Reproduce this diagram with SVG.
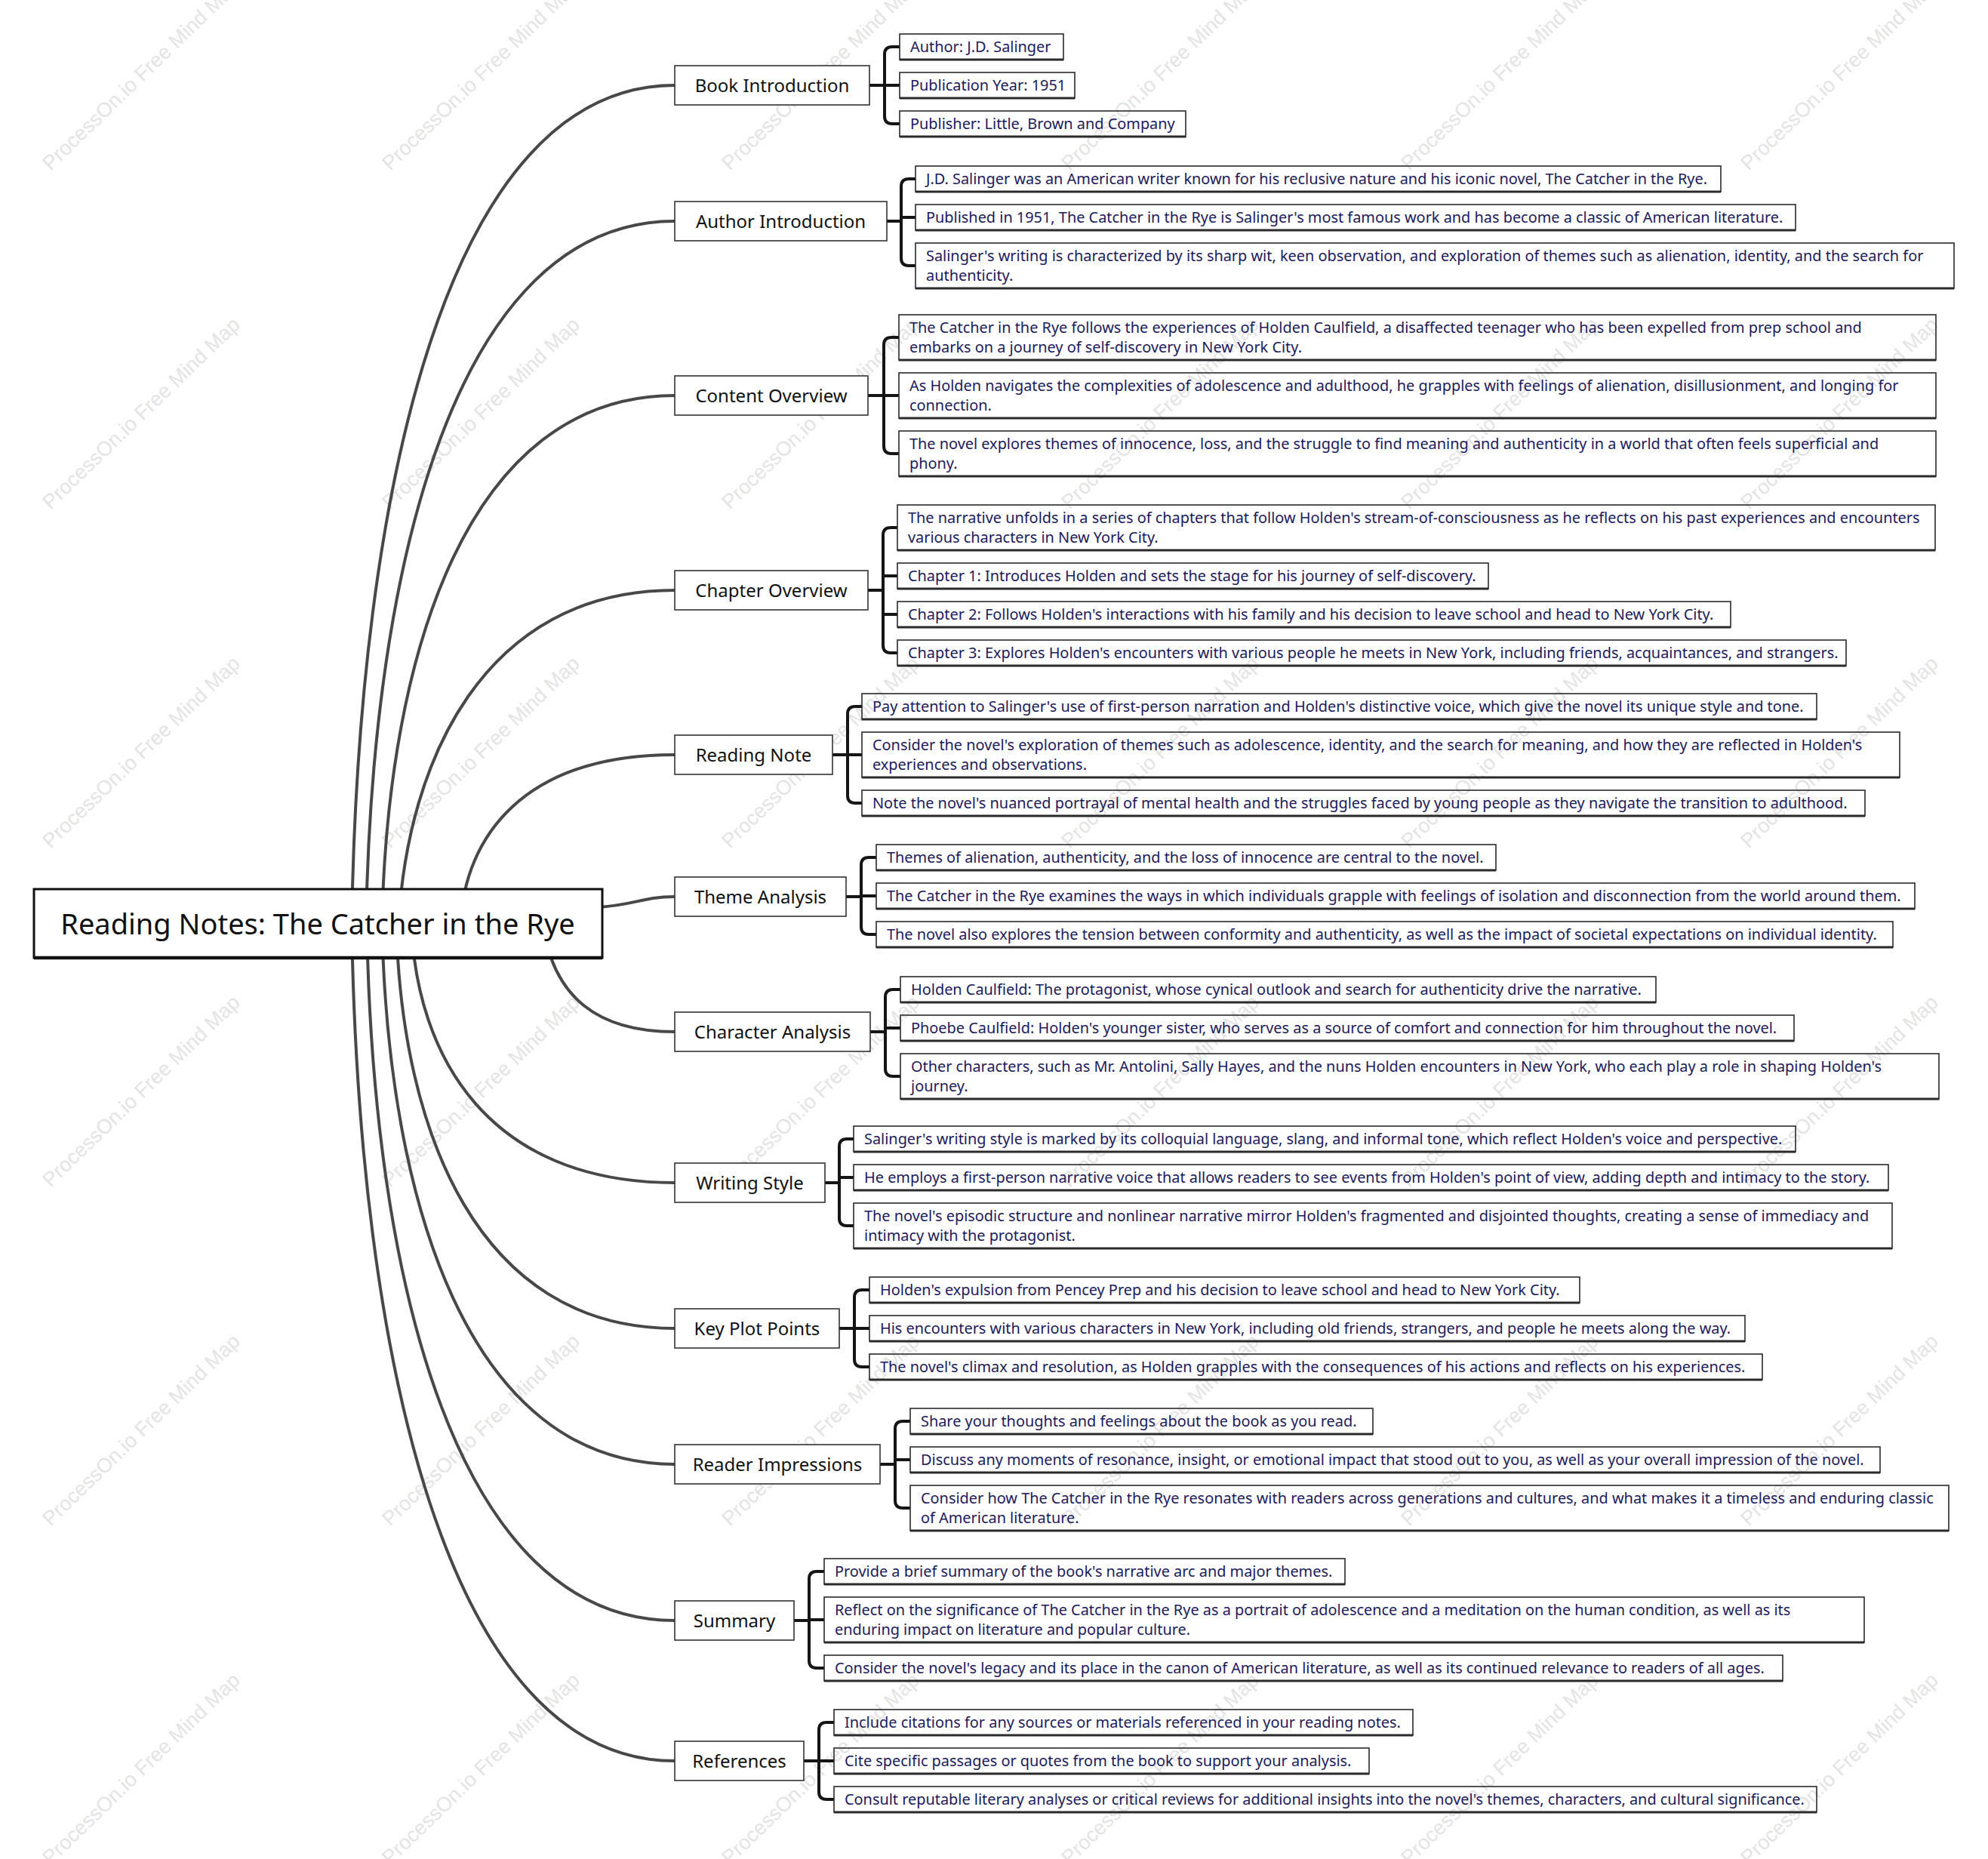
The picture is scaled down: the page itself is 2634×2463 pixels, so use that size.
<svg xmlns="http://www.w3.org/2000/svg" width="2634" height="2463" viewBox="0 0 2634 2463">
<style>
.wm{font-family:"Liberation Sans",Arial,sans-serif;font-size:27px;fill:#e4e4e4}
.curve{fill:none;stroke:#484848;stroke-width:4;stroke-linecap:round}
.br{fill:none;stroke:#151515;stroke-width:4;stroke-linejoin:round}
.rootbox{fill:#fff;stroke:#111;stroke-width:3}
.rootbot{stroke:#111;stroke-width:4.5}
.nb{fill:#fff;stroke:#333;stroke-width:1.6}
.lb{fill:none;stroke:#2a2a2a;stroke-width:1.6}
.lbb{stroke:#2a2a2a;stroke-width:3.2}
.tr{font-family:"Noto Sans","Open Sans",sans-serif;font-size:38px;fill:#111;text-anchor:middle}
.tm{font-family:"Noto Sans","Open Sans",sans-serif;font-size:24px;fill:#111;text-anchor:middle}
.tl{font-family:"Noto Sans","Open Sans",sans-serif;font-size:19.9px;fill:#1d1a5b}
</style>
<g id="watermarks">
<text class="wm" transform="translate(67,227) rotate(-44)">ProcessOn.io Free Mind Map</text>
<text class="wm" transform="translate(517,227) rotate(-44)">ProcessOn.io Free Mind Map</text>
<text class="wm" transform="translate(967,227) rotate(-44)">ProcessOn.io Free Mind Map</text>
<text class="wm" transform="translate(1417,227) rotate(-44)">ProcessOn.io Free Mind Map</text>
<text class="wm" transform="translate(1867,227) rotate(-44)">ProcessOn.io Free Mind Map</text>
<text class="wm" transform="translate(2317,227) rotate(-44)">ProcessOn.io Free Mind Map</text>
<text class="wm" transform="translate(67,676) rotate(-44)">ProcessOn.io Free Mind Map</text>
<text class="wm" transform="translate(517,676) rotate(-44)">ProcessOn.io Free Mind Map</text>
<text class="wm" transform="translate(967,676) rotate(-44)">ProcessOn.io Free Mind Map</text>
<text class="wm" transform="translate(1417,676) rotate(-44)">ProcessOn.io Free Mind Map</text>
<text class="wm" transform="translate(1867,676) rotate(-44)">ProcessOn.io Free Mind Map</text>
<text class="wm" transform="translate(2317,676) rotate(-44)">ProcessOn.io Free Mind Map</text>
<text class="wm" transform="translate(67,1125) rotate(-44)">ProcessOn.io Free Mind Map</text>
<text class="wm" transform="translate(517,1125) rotate(-44)">ProcessOn.io Free Mind Map</text>
<text class="wm" transform="translate(967,1125) rotate(-44)">ProcessOn.io Free Mind Map</text>
<text class="wm" transform="translate(1417,1125) rotate(-44)">ProcessOn.io Free Mind Map</text>
<text class="wm" transform="translate(1867,1125) rotate(-44)">ProcessOn.io Free Mind Map</text>
<text class="wm" transform="translate(2317,1125) rotate(-44)">ProcessOn.io Free Mind Map</text>
<text class="wm" transform="translate(67,1574) rotate(-44)">ProcessOn.io Free Mind Map</text>
<text class="wm" transform="translate(517,1574) rotate(-44)">ProcessOn.io Free Mind Map</text>
<text class="wm" transform="translate(967,1574) rotate(-44)">ProcessOn.io Free Mind Map</text>
<text class="wm" transform="translate(1417,1574) rotate(-44)">ProcessOn.io Free Mind Map</text>
<text class="wm" transform="translate(1867,1574) rotate(-44)">ProcessOn.io Free Mind Map</text>
<text class="wm" transform="translate(2317,1574) rotate(-44)">ProcessOn.io Free Mind Map</text>
<text class="wm" transform="translate(67,2023) rotate(-44)">ProcessOn.io Free Mind Map</text>
<text class="wm" transform="translate(517,2023) rotate(-44)">ProcessOn.io Free Mind Map</text>
<text class="wm" transform="translate(967,2023) rotate(-44)">ProcessOn.io Free Mind Map</text>
<text class="wm" transform="translate(1417,2023) rotate(-44)">ProcessOn.io Free Mind Map</text>
<text class="wm" transform="translate(1867,2023) rotate(-44)">ProcessOn.io Free Mind Map</text>
<text class="wm" transform="translate(2317,2023) rotate(-44)">ProcessOn.io Free Mind Map</text>
<text class="wm" transform="translate(67,2472) rotate(-44)">ProcessOn.io Free Mind Map</text>
<text class="wm" transform="translate(517,2472) rotate(-44)">ProcessOn.io Free Mind Map</text>
<text class="wm" transform="translate(967,2472) rotate(-44)">ProcessOn.io Free Mind Map</text>
<text class="wm" transform="translate(1417,2472) rotate(-44)">ProcessOn.io Free Mind Map</text>
<text class="wm" transform="translate(1867,2472) rotate(-44)">ProcessOn.io Free Mind Map</text>
<text class="wm" transform="translate(2317,2472) rotate(-44)">ProcessOn.io Free Mind Map</text>
</g>
<g id="connectors">
<path class="curve" d="M466,1224 C475,657 590,113 894,113"/>
<path class="curve" d="M485,1224 C493,749 604,293 894,293"/>
<path class="curve" d="M506,1224 C514,867 619,524 894,524"/>
<path class="curve" d="M528,1224 C540,1010 640,782 894,782"/>
<path class="curve" d="M610,1224 C616,1110 692,1000 894,1000"/>
<path class="curve" d="M790,1202 C840,1200 850,1188 894,1188"/>
<path class="curve" d="M720,1230 C735,1320 790,1367 894,1367"/>
<path class="curve" d="M545,1224 C552,1399 646,1567 894,1567"/>
<path class="curve" d="M525,1224 C532,1497 632,1760 894,1760"/>
<path class="curve" d="M506,1224 C514,1589 619,1940 894,1940"/>
<path class="curve" d="M486,1224 C494,1695 604,2147 894,2147"/>
<path class="curve" d="M466,1224 C475,1790 590,2333 894,2333"/>
<path class="br" d="M1152,113 H1172 M1192,62 H1182 Q1172,62 1172,72 V154 Q1172,164 1182,164 H1192 M1172,113 H1192"/>
<path class="br" d="M1175,293 H1194 M1213,237 H1204 Q1194,237 1194,247 V342 Q1194,352 1204,352 H1213 M1194,288 H1213"/>
<path class="br" d="M1150,524 H1171 M1191,447 H1181 Q1171,447 1171,457 V591 Q1171,601 1181,601 H1191 M1171,524 H1191"/>
<path class="br" d="M1150,782 H1170 M1189,699 H1180 Q1170,699 1170,709 V855 Q1170,865 1180,865 H1189 M1170,763 H1189 M1170,814 H1189"/>
<path class="br" d="M1103,1000 H1123 M1142,936 H1133 Q1123,936 1123,946 V1054 Q1123,1064 1133,1064 H1142 M1123,1000 H1142"/>
<path class="br" d="M1121,1188 H1141 M1161,1136 H1151 Q1141,1136 1141,1146 V1228 Q1141,1238 1151,1238 H1161 M1141,1187 H1161"/>
<path class="br" d="M1153,1367 H1173 M1193,1311 H1183 Q1173,1311 1173,1321 V1416 Q1173,1426 1183,1426 H1193 M1173,1362 H1193"/>
<path class="br" d="M1093,1567 H1112 M1131,1509 H1122 Q1112,1509 1112,1519 V1614 Q1112,1624 1122,1624 H1131 M1112,1560 H1131"/>
<path class="br" d="M1112,1760 H1132 M1152,1709 H1142 Q1132,1709 1132,1719 V1801 Q1132,1811 1142,1811 H1152 M1132,1760 H1152"/>
<path class="br" d="M1166,1940 H1186 M1206,1883 H1196 Q1186,1883 1186,1893 V1988 Q1186,1998 1196,1998 H1206 M1186,1934 H1206"/>
<path class="br" d="M1052,2147 H1072 M1092,2082 H1082 Q1072,2082 1072,2092 V2200 Q1072,2210 1082,2210 H1092 M1072,2146 H1092"/>
<path class="br" d="M1065,2333 H1085 M1105,2282 H1095 Q1085,2282 1085,2292 V2374 Q1085,2384 1095,2384 H1105 M1085,2333 H1105"/>
</g>
<g id="root">
<rect class="rootbox" x="45" y="1178" width="753" height="91"/>
<line class="rootbot" x1="45" y1="1269" x2="798" y2="1269"/>
<text class="tr" x="421" y="1238">Reading Notes: The Catcher in the Rye</text>
</g>
<g id="n-book">
<rect class="nb" x="894" y="87" width="258" height="52"/>
<text class="tm" x="1023" y="121.5">Book Introduction</text>
</g>
<g id="n-book-1"><rect class="lb" x="1192" y="45" width="217" height="34"/><line class="lbb" x1="1192" y1="79" x2="1409" y2="79"/><text class="tl" x="1206" y="69">Author: J.D. Salinger</text></g>
<g id="n-book-2"><rect class="lb" x="1192" y="96" width="232" height="34"/><line class="lbb" x1="1192" y1="130" x2="1424" y2="130"/><text class="tl" x="1206" y="120">Publication Year: 1951</text></g>
<g id="n-book-3"><rect class="lb" x="1192" y="147" width="379" height="34"/><line class="lbb" x1="1192" y1="181" x2="1571" y2="181"/><text class="tl" x="1206" y="171">Publisher: Little, Brown and Company</text></g>

<g id="n-author">
<rect class="nb" x="894" y="267" width="281" height="52"/>
<text class="tm" x="1034.5" y="301.5">Author Introduction</text>
</g>
<g id="n-author-1"><rect class="lb" x="1213" y="220" width="1067" height="34"/><line class="lbb" x1="1213" y1="254" x2="2280" y2="254"/><text class="tl" x="1227" y="244">J.D. Salinger was an American writer known for his reclusive nature and his iconic novel, The Catcher in the Rye.</text></g>
<g id="n-author-2"><rect class="lb" x="1213" y="271" width="1166" height="34"/><line class="lbb" x1="1213" y1="305" x2="2379" y2="305"/><text class="tl" x="1227" y="295">Published in 1951, The Catcher in the Rye is Salinger's most famous work and has become a classic of American literature.</text></g>
<g id="n-author-3"><rect class="lb" x="1213" y="322" width="1376" height="60"/><line class="lbb" x1="1213" y1="382" x2="2589" y2="382"/><text class="tl" x="1227" y="346">Salinger's writing is characterized by its sharp wit, keen observation, and exploration of themes such as alienation, identity, and the search for</text><text class="tl" x="1227" y="372">authenticity.</text></g>

<g id="n-content">
<rect class="nb" x="894" y="498" width="256" height="52"/>
<text class="tm" x="1022" y="532.5">Content Overview</text>
</g>
<g id="n-content-1"><rect class="lb" x="1191" y="417" width="1374" height="60"/><line class="lbb" x1="1191" y1="477" x2="2565" y2="477"/><text class="tl" x="1205" y="441">The Catcher in the Rye follows the experiences of Holden Caulfield, a disaffected teenager who has been expelled from prep school and</text><text class="tl" x="1205" y="467">embarks on a journey of self-discovery in New York City.</text></g>
<g id="n-content-2"><rect class="lb" x="1191" y="494" width="1374" height="60"/><line class="lbb" x1="1191" y1="554" x2="2565" y2="554"/><text class="tl" x="1205" y="518">As Holden navigates the complexities of adolescence and adulthood, he grapples with feelings of alienation, disillusionment, and longing for</text><text class="tl" x="1205" y="544">connection.</text></g>
<g id="n-content-3"><rect class="lb" x="1191" y="571" width="1374" height="60"/><line class="lbb" x1="1191" y1="631" x2="2565" y2="631"/><text class="tl" x="1205" y="595">The novel explores themes of innocence, loss, and the struggle to find meaning and authenticity in a world that often feels superficial and</text><text class="tl" x="1205" y="621">phony.</text></g>

<g id="n-chapter">
<rect class="nb" x="894" y="756" width="256" height="52"/>
<text class="tm" x="1022" y="790.5">Chapter Overview</text>
</g>
<g id="n-chapter-1"><rect class="lb" x="1189" y="669" width="1375" height="60"/><line class="lbb" x1="1189" y1="729" x2="2564" y2="729"/><text class="tl" x="1203" y="693">The narrative unfolds in a series of chapters that follow Holden's stream-of-consciousness as he reflects on his past experiences and encounters</text><text class="tl" x="1203" y="719">various characters in New York City.</text></g>
<g id="n-chapter-2"><rect class="lb" x="1189" y="746" width="783" height="34"/><line class="lbb" x1="1189" y1="780" x2="1972" y2="780"/><text class="tl" x="1203" y="770">Chapter 1: Introduces Holden and sets the stage for his journey of self-discovery.</text></g>
<g id="n-chapter-3"><rect class="lb" x="1189" y="797" width="1104" height="34"/><line class="lbb" x1="1189" y1="831" x2="2293" y2="831"/><text class="tl" x="1203" y="821">Chapter 2: Follows Holden's interactions with his family and his decision to leave school and head to New York City.</text></g>
<g id="n-chapter-4"><rect class="lb" x="1189" y="848" width="1257" height="34"/><line class="lbb" x1="1189" y1="882" x2="2446" y2="882"/><text class="tl" x="1203" y="872">Chapter 3: Explores Holden's encounters with various people he meets in New York, including friends, acquaintances, and strangers.</text></g>

<g id="n-reading">
<rect class="nb" x="894" y="974" width="209" height="52"/>
<text class="tm" x="998.5" y="1008.5">Reading Note</text>
</g>
<g id="n-reading-1"><rect class="lb" x="1142" y="919" width="1265" height="34"/><line class="lbb" x1="1142" y1="953" x2="2407" y2="953"/><text class="tl" x="1156" y="943">Pay attention to Salinger's use of first-person narration and Holden's distinctive voice, which give the novel its unique style and tone.</text></g>
<g id="n-reading-2"><rect class="lb" x="1142" y="970" width="1375" height="60"/><line class="lbb" x1="1142" y1="1030" x2="2517" y2="1030"/><text class="tl" x="1156" y="994">Consider the novel's exploration of themes such as adolescence, identity, and the search for meaning, and how they are reflected in Holden's</text><text class="tl" x="1156" y="1020">experiences and observations.</text></g>
<g id="n-reading-3"><rect class="lb" x="1142" y="1047" width="1329" height="34"/><line class="lbb" x1="1142" y1="1081" x2="2471" y2="1081"/><text class="tl" x="1156" y="1071">Note the novel's nuanced portrayal of mental health and the struggles faced by young people as they navigate the transition to adulthood.</text></g>

<g id="n-theme">
<rect class="nb" x="894" y="1162" width="227" height="52"/>
<text class="tm" x="1007.5" y="1196.5">Theme Analysis</text>
</g>
<g id="n-theme-1"><rect class="lb" x="1161" y="1119" width="821" height="34"/><line class="lbb" x1="1161" y1="1153" x2="1982" y2="1153"/><text class="tl" x="1175" y="1143">Themes of alienation, authenticity, and the loss of innocence are central to the novel.</text></g>
<g id="n-theme-2"><rect class="lb" x="1161" y="1170" width="1376" height="34"/><line class="lbb" x1="1161" y1="1204" x2="2537" y2="1204"/><text class="tl" x="1175" y="1194">The Catcher in the Rye examines the ways in which individuals grapple with feelings of isolation and disconnection from the world around them.</text></g>
<g id="n-theme-3"><rect class="lb" x="1161" y="1221" width="1347" height="34"/><line class="lbb" x1="1161" y1="1255" x2="2508" y2="1255"/><text class="tl" x="1175" y="1245">The novel also explores the tension between conformity and authenticity, as well as the impact of societal expectations on individual identity.</text></g>

<g id="n-character">
<rect class="nb" x="894" y="1341" width="259" height="52"/>
<text class="tm" x="1023.5" y="1375.5">Character Analysis</text>
</g>
<g id="n-character-1"><rect class="lb" x="1193" y="1294" width="1001" height="34"/><line class="lbb" x1="1193" y1="1328" x2="2194" y2="1328"/><text class="tl" x="1207" y="1318">Holden Caulfield: The protagonist, whose cynical outlook and search for authenticity drive the narrative.</text></g>
<g id="n-character-2"><rect class="lb" x="1193" y="1345" width="1184" height="34"/><line class="lbb" x1="1193" y1="1379" x2="2377" y2="1379"/><text class="tl" x="1207" y="1369">Phoebe Caulfield: Holden's younger sister, who serves as a source of comfort and connection for him throughout the novel.</text></g>
<g id="n-character-3"><rect class="lb" x="1193" y="1396" width="1376" height="60"/><line class="lbb" x1="1193" y1="1456" x2="2569" y2="1456"/><text class="tl" x="1207" y="1420">Other characters, such as Mr. Antolini, Sally Hayes, and the nuns Holden encounters in New York, who each play a role in shaping Holden's</text><text class="tl" x="1207" y="1446">journey.</text></g>

<g id="n-writing">
<rect class="nb" x="894" y="1541" width="199" height="52"/>
<text class="tm" x="993.5" y="1575.5">Writing Style</text>
</g>
<g id="n-writing-1"><rect class="lb" x="1131" y="1492" width="1248" height="34"/><line class="lbb" x1="1131" y1="1526" x2="2379" y2="1526"/><text class="tl" x="1145" y="1516">Salinger's writing style is marked by its colloquial language, slang, and informal tone, which reflect Holden's voice and perspective.</text></g>
<g id="n-writing-2"><rect class="lb" x="1131" y="1543" width="1371" height="34"/><line class="lbb" x1="1131" y1="1577" x2="2502" y2="1577"/><text class="tl" x="1145" y="1567">He employs a first-person narrative voice that allows readers to see events from Holden's point of view, adding depth and intimacy to the story.</text></g>
<g id="n-writing-3"><rect class="lb" x="1131" y="1594" width="1376" height="60"/><line class="lbb" x1="1131" y1="1654" x2="2507" y2="1654"/><text class="tl" x="1145" y="1618">The novel's episodic structure and nonlinear narrative mirror Holden's fragmented and disjointed thoughts, creating a sense of immediacy and</text><text class="tl" x="1145" y="1644">intimacy with the protagonist.</text></g>

<g id="n-plot">
<rect class="nb" x="894" y="1734" width="218" height="52"/>
<text class="tm" x="1003" y="1768.5">Key Plot Points</text>
</g>
<g id="n-plot-1"><rect class="lb" x="1152" y="1692" width="941" height="34"/><line class="lbb" x1="1152" y1="1726" x2="2093" y2="1726"/><text class="tl" x="1166" y="1716">Holden's expulsion from Pencey Prep and his decision to leave school and head to New York City.</text></g>
<g id="n-plot-2"><rect class="lb" x="1152" y="1743" width="1160" height="34"/><line class="lbb" x1="1152" y1="1777" x2="2312" y2="1777"/><text class="tl" x="1166" y="1767">His encounters with various characters in New York, including old friends, strangers, and people he meets along the way.</text></g>
<g id="n-plot-3"><rect class="lb" x="1152" y="1794" width="1183" height="34"/><line class="lbb" x1="1152" y1="1828" x2="2335" y2="1828"/><text class="tl" x="1166" y="1818">The novel's climax and resolution, as Holden grapples with the consequences of his actions and reflects on his experiences.</text></g>

<g id="n-reader">
<rect class="nb" x="894" y="1914" width="272" height="52"/>
<text class="tm" x="1030" y="1948.5">Reader Impressions</text>
</g>
<g id="n-reader-1"><rect class="lb" x="1206" y="1866" width="613" height="34"/><line class="lbb" x1="1206" y1="1900" x2="1819" y2="1900"/><text class="tl" x="1220" y="1890">Share your thoughts and feelings about the book as you read.</text></g>
<g id="n-reader-2"><rect class="lb" x="1206" y="1917" width="1285" height="34"/><line class="lbb" x1="1206" y1="1951" x2="2491" y2="1951"/><text class="tl" x="1220" y="1941">Discuss any moments of resonance, insight, or emotional impact that stood out to you, as well as your overall impression of the novel.</text></g>
<g id="n-reader-3"><rect class="lb" x="1206" y="1968" width="1376" height="60"/><line class="lbb" x1="1206" y1="2028" x2="2582" y2="2028"/><text class="tl" x="1220" y="1992">Consider how The Catcher in the Rye resonates with readers across generations and cultures, and what makes it a timeless and enduring classic</text><text class="tl" x="1220" y="2018">of American literature.</text></g>

<g id="n-summary">
<rect class="nb" x="894" y="2121" width="158" height="52"/>
<text class="tm" x="973" y="2155.5">Summary</text>
</g>
<g id="n-summary-1"><rect class="lb" x="1092" y="2065" width="690" height="34"/><line class="lbb" x1="1092" y1="2099" x2="1782" y2="2099"/><text class="tl" x="1106" y="2089">Provide a brief summary of the book's narrative arc and major themes.</text></g>
<g id="n-summary-2"><rect class="lb" x="1092" y="2116" width="1378" height="60"/><line class="lbb" x1="1092" y1="2176" x2="2470" y2="2176"/><text class="tl" x="1106" y="2140">Reflect on the significance of The Catcher in the Rye as a portrait of adolescence and a meditation on the human condition, as well as its</text><text class="tl" x="1106" y="2166">enduring impact on literature and popular culture.</text></g>
<g id="n-summary-3"><rect class="lb" x="1092" y="2193" width="1270" height="34"/><line class="lbb" x1="1092" y1="2227" x2="2362" y2="2227"/><text class="tl" x="1106" y="2217">Consider the novel's legacy and its place in the canon of American literature, as well as its continued relevance to readers of all ages.</text></g>

<g id="n-refs">
<rect class="nb" x="894" y="2307" width="171" height="52"/>
<text class="tm" x="979.5" y="2341.5">References</text>
</g>
<g id="n-refs-1"><rect class="lb" x="1105" y="2265" width="767" height="34"/><line class="lbb" x1="1105" y1="2299" x2="1872" y2="2299"/><text class="tl" x="1119" y="2289">Include citations for any sources or materials referenced in your reading notes.</text></g>
<g id="n-refs-2"><rect class="lb" x="1105" y="2316" width="709" height="34"/><line class="lbb" x1="1105" y1="2350" x2="1814" y2="2350"/><text class="tl" x="1119" y="2340">Cite specific passages or quotes from the book to support your analysis.</text></g>
<g id="n-refs-3"><rect class="lb" x="1105" y="2367" width="1302" height="34"/><line class="lbb" x1="1105" y1="2401" x2="2407" y2="2401"/><text class="tl" x="1119" y="2391">Consult reputable literary analyses or critical reviews for additional insights into the novel's themes, characters, and cultural significance.</text></g>
</svg>
